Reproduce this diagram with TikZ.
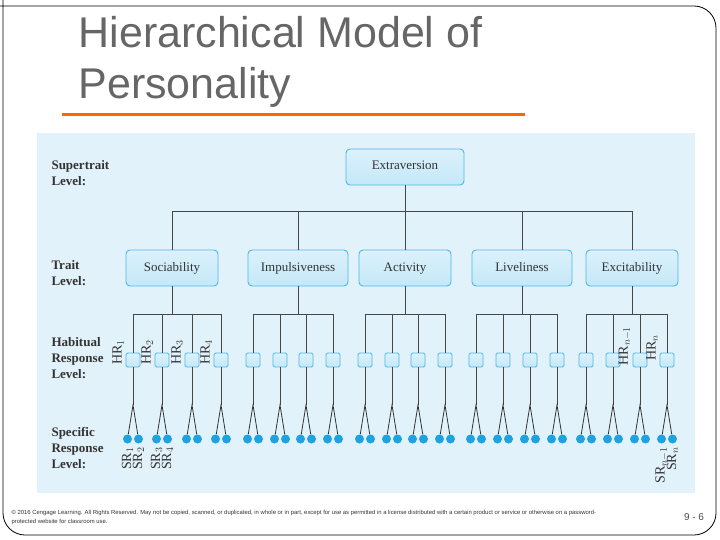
\documentclass[tikz,border=0pt]{standalone}
\usepackage{fontspec}
\setmainfont{Liberation Serif}
\newfontfamily\ttlfont{Liberation Sans}
\definecolor{panel}{HTML}{E2F2FB}
\definecolor{boxf}{HTML}{C4E8F8}
\definecolor{boxd}{HTML}{4DB8E6}
\definecolor{dotc}{HTML}{1DA3E0}
\definecolor{ink}{HTML}{333333}
\begin{document}
\begin{tikzpicture}[x=1pt,y=-1pt,
  trait/.style={draw=boxd,line width=0.9pt,top color=white!40!boxf,bottom color=boxf,rounded corners=4pt,minimum height=36pt,text height=9pt,text depth=3pt,font=\fontsize{13}{13}\selectfont,text=ink},
  hr/.style={draw=boxd,line width=0.9pt,top color=white!40!boxf,bottom color=boxf,rounded corners=1.5pt,minimum size=14pt,inner sep=0pt},
  sr/.style={circle,fill=dotc,minimum size=9pt,inner sep=0pt},
  lvl/.style={font=\bfseries\fontsize{13}{16}\selectfont,text=ink,align=left,anchor=north west},
  ln/.style={draw=ink!90,line width=1pt},
  rl/.style={rotate=90,font=\fontsize{14}{14}\selectfont,text=ink,inner sep=1pt}]
\useasboundingbox (0,0) rectangle (720,540);
\draw[line width=0.8pt,rounded corners=22pt] (-30,6) -- (716,6) -- (716,535) -- (3,535) -- (3,-30);
\draw[orange!80!red,line width=3pt] (62,115) -- (525,115);
\node[anchor=west,text=black!60,font=\ttlfont\fontsize{43}{51}\selectfont,align=left] (title) at (75,62) {Hierarchical Model of\\Personality};
\fill[panel] (37,133) rectangle (695,493);
\node[lvl] (l1) at (48,157) {Supertrait\\Level:};
\node[lvl] (l2) at (48,257) {Trait\\Level:};
\node[lvl] (l3) at (48,334) {Habitual\\Response\\Level:};
\node[lvl] (l4) at (48,424) {Specific\\Response\\Level:};
\node[trait,minimum width=118pt] (ex) at (405,167) {Extraversion};
\node[trait,minimum width=92pt] (t1) at (172,268) {Sociability};
\node[trait,minimum width=100pt] (t2) at (298,268) {Impulsiveness};
\node[trait,minimum width=92pt] (t3) at (405,268) {Activity};
\node[trait,minimum width=100pt] (t4) at (522,268) {Liveliness};
\node[trait,minimum width=92pt] (t5) at (632,268) {Excitability};
\draw[ln] (ex.south) -- (405,212);
\draw[ln] (t1.north) |- (t5.north |- 0,212) -- (t5.north);
\foreach \t in {t2,t3,t4} \draw[ln] (\t.north) -- (\t.north |- 0,212);
\foreach \t/\a/\b/\c/\d in {1/133/162/192/221, 2/253/280/306/333, 3/365/392/418/445, 4/476/503/530/557, 5/586/613/640/667}{
  \draw[ln] (t\t.south) -- (t\t.south |- 0,314);
  \draw[ln] (\a,314) -- (\d,314);
  \foreach \x [count=\k] in {\a,\b,\c,\d}{
    \node[hr] (h\t\k) at (\x,360) {};
    \coordinate (s\t\k) at (\x,405);
    \node[sr] (d\t\k a) at (\x-5.5,439) {};
    \node[sr] (d\t\k b) at (\x+5.5,439) {};
    \draw[ln] (\x,314) -- (h\t\k.north);
    \draw[ln] (h\t\k.south) -- (s\t\k);
    \draw[line width=0.8pt,ink] (d\t\k a) -- (s\t\k) -- (d\t\k b);
  }
}
\foreach \k in {1,2,3,4} \node[rl,anchor=south] at ([xshift=-8pt,yshift=8pt]h1\k.center) {HR$_\k$};
\node[rl,anchor=south] at ([xshift=-8pt,yshift=14pt]h53.center) {HR$_{n-1}$};
\node[rl,anchor=south] at ([xshift=-8pt,yshift=12pt]h54.center) {HR$_n$};
\node[rl,anchor=east] at ([yshift=-7pt]d11a.center) {SR$_1$};
\node[rl,anchor=east] at ([yshift=-7pt]d11b.center) {SR$_2$};
\node[rl,anchor=east] at ([yshift=-7pt]d12a.center) {SR$_3$};
\node[rl,anchor=east] at ([yshift=-7pt]d12b.center) {SR$_4$};
\node[rl,anchor=east] at ([yshift=-7pt]d54a.center) {SR$_{n-1}$};
\node[rl,anchor=east] at ([yshift=-7pt]d54b.center) {SR$_n$};
\node[anchor=north west,font=\ttlfont\fontsize{5.9}{9}\selectfont,align=left,text=black!80] (foot) at (8,507) {\copyright{} 2016 Cengage Learning. All Rights Reserved. May not be copied, scanned, or duplicated, in whole or in part, except for use as permitted in a license distributed with a certain product or service or otherwise on a password-\\protected website for classroom use.};
\node[font=\ttlfont\fontsize{10}{10}\selectfont,text=black!70] (pg) at (694,517) {9 - 6};
\end{tikzpicture}
\end{document}
